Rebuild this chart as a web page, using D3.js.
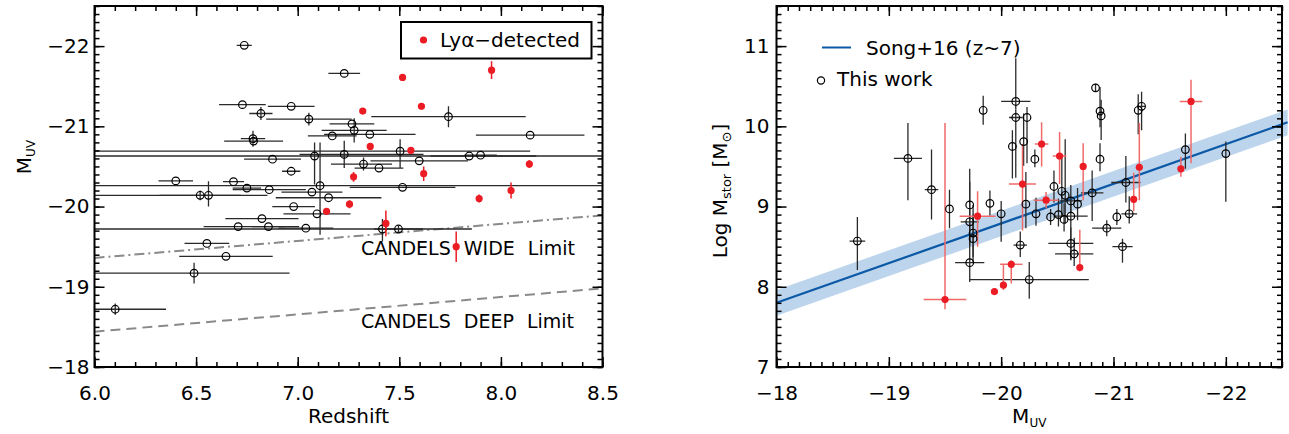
<!DOCTYPE html>
<html><head><meta charset="utf-8">
<script src="https://cdn.jsdelivr.net/npm/d3@7"></script>
<style>
body{margin:0;background:#fff}
text{font-family:"DejaVu Sans",sans-serif;fill:#000}
</style></head>
<body><svg id="c" width="1289" height="434"></svg>
<script>
// ---------------- LEFT PANEL DATA (redshift vs M_UV) ----------------
// black open circles: z, z error (low side, high side), M_UV, M error (bright side, faint side)
const blkZ     = [6.737,7.229,6.728,6.968,6.819,7.055,7.742,7.267,7.278,7.17,7.355,8.144,6.78,6.783,7.083,7.229,7.504,7.844,7.90,6.876,7.598,7.324,7.40,6.968,6.40,6.684,6.75,6.86,7.07,7.11,7.516,6.52,6.561,7.152,6.98,7.095,6.824,6.707,6.856,7.04,7.417,7.496,6.553,6.647,6.49,6.102];
const blkZLo   = [0.037,0.078,0.115,0.115,0.057,0.21,0.38,0.11,0.16,0.12,0.225,0.267,0.06,0.145,1.2,0.22,1.6,0.19,0.08,0.14,0.24,0.16,0.12,0.045,0.085,0.052,0.07,0.18,0.15,1.2,0.26,0.2,0.6,0.26,0.105,0.165,0.18,0.17,0.08,0.135,1.5,0.12,0.11,0.23,0.6,0.2];
const blkZHi   = [0.037,0.078,0.115,0.115,0.057,0.21,0.38,0.11,0.16,0.12,0.225,0.267,0.06,0.145,1.5,0.39,0.64,0.33,0.08,0.14,0.24,0.14,0.12,0.045,0.085,0.052,0.07,0.18,0.15,1.5,0.26,0.2,0.29,0.26,0.105,0.165,0.18,0.30,0.08,0.135,0.44,0.12,0.11,0.23,0.47,0.25];
const blkM     = [-22.01,-21.66,-21.27,-21.25,-21.16,-21.09,-21.12,-21.03,-20.95,-20.88,-20.90,-20.89,-20.846,-20.816,-20.63,-20.65,-20.69,-20.63,-20.64,-20.59,-20.57,-20.53,-20.48,-20.44,-20.32,-20.31,-20.23,-20.21,-20.18,-20.26,-20.24,-20.14,-20.14,-20.11,-20.0,-19.91,-19.85,-19.75,-19.75,-19.73,-19.72,-19.72,-19.54,-19.38,-19.17,-18.72];
const blkMBr   = [0,0,0,0,0.08,0.08,0.13,0,0.15,0,0,0,0.1,0,0.17,0.17,0.15,0,0,0,0,0.08,0,0,0,0,0,0,0,0.54,0,0.06,0.175,0,0,0,0,0,0,0,0.125,0.04,0,0,0.13,0.07];
const blkMFt   = [0,0,0,0,0.08,0.08,0.13,0,0.15,0,0,0,0.1,0,0.355,0.17,0.21,0,0,0,0,0.08,0,0,0,0,0,0,0,0.61,0,0.06,0.14,0,0,0,0,0,0,0,0.155,0.04,0,0,0.13,0.07];
// red (Lya-detected) filled dots
const redZ     = [7.516,7.954,7.32,7.609,7.357,7.557,7.62,8.14,7.275,7.893,8.05,7.255,7.142,7.434,7.78];
const redM     = [-21.61,-21.70,-21.19,-21.25,-20.75,-20.70,-20.41,-20.53,-20.37,-20.10,-20.20,-20.03,-19.94,-19.79,-19.50];
const redMErr  = [0,0.11,0,0,0.04,0.03,0.09,0.05,0.06,0.05,0.1,0.05,0.03,0.16,0.19];
// survey limits
const limZ     = [6.0, 8.5];
const wideM    = [-19.36, -19.89];
const deepM    = [-18.44, -18.98];

// ---------------- RIGHT PANEL DATA (M_UV vs log stellar mass) ----------------
const rbMuv    = [-19.84,-20.13,-20.13,-20.23,-20.84,-20.88,-20.89,-21.22,-21.25,-19.17,-19.38,-19.54,-19.72,-19.72,-19.75,-19.75,-19.72,-19.90,-20.00,-20.17,-20.22,-20.10,-20.20,-20.30,-20.47,-20.54,-20.57,-20.62,-20.68,-20.51,-20.44,-20.56,-20.62,-20.31,-20.62,-20.65,-20.81,-20.88,-20.94,-21.03,-21.08,-21.11,-21.14,-21.64,-22.00,-18.72,-20.25];
const rbMuvErr = [0,0.13,0.06,0,0,0,0,0,0.03,0.125,0.06,0,0,0.08,0,0,0.13,0,0,0.06,0,0,0,0,0,0,0,0.1,0,0,0,0,0.15,0,0.2,0.17,0.1,0,0.13,0,0.09,0.13,0.07,0,0,0.07,0.53];
const rbLogM   = [10.20,10.31,10.11,10.11,10.48,10.19,10.13,10.20,10.25,9.60,9.21,8.97,9.02,8.81,8.67,8.60,8.30,9.04,8.91,8.52,9.03,9.75,9.81,9.59,9.25,9.19,9.14,9.07,9.03,8.90,8.87,8.84,8.88,8.91,8.54,8.41,9.17,9.59,8.73,8.87,8.50,9.30,8.91,9.71,9.66,8.57,8.09];
const rbLo     = [0.18,0.1,0.75,0.57,0.05,0.2,0.3,0.3,0.3,0.52,0.37,0.24,0.47,0.3,0.3,0.3,0.24,0.15,0.35,0.15,0.3,0.4,0.3,0.1,0.2,0.3,0.35,0.15,0.2,0.15,0.1,0.15,0.55,0.15,0.2,0.15,0.35,0.15,0.1,0.1,0.2,0.25,0.12,0.24,0.6,0.36,0.24];
const rbHi     = [0.18,0.54,0.1,0.13,0.05,0.3,0.2,0.2,0.18,0.44,0.5,0.24,0.45,0.5,0.35,0.3,0.35,0.16,0.16,0.17,0.4,0.2,0.35,0.12,0.2,0.45,0.7,0.2,0.2,0.2,0.1,0.2,0.2,0.2,0.2,0.2,0.28,0.2,0.1,0.1,0.1,0.33,0.22,0.2,0.15,0.3,0.22];
const rrMuv    = [-19.50,-19.94,-20.02,-20.09,-20.70,-19.79,-20.19,-20.36,-20.52,-20.73,-20.40,-21.18,-21.23,-21.60,-21.69];
const rrMuvErr = [0.19,0.03,0.03,0.1,0,0.16,0.12,0.06,0.06,0,0.11,0,0,0,0.1];
const rrLogM   = [7.84,7.94,8.02,8.28,8.24,8.88,9.28,9.78,9.63,9.50,9.08,9.09,9.49,9.47,10.31];
const rrLo     = [0.12,0.04,0.06,0.24,0.05,0.38,0.58,0.28,0.35,0.42,0.1,0.15,0.41,0.1,0.77];
const rrHi     = [2.2,0.04,0.25,0.05,0.47,0.31,0.5,0.27,0.3,0.29,0.1,0.33,0.55,0.15,0.27];
// Song+16 (z~7) relation endpoints and 1-sigma band
const songMuv  = [-18.0, -22.55];
const songLogM = [7.80, 10.05];
const songSig  = 0.16;

// tick values
const lxTicks = [6.0,6.5,7.0,7.5,8.0,8.5];
const lyTicks = [-22,-21,-20,-19,-18];
const rxTicks = [-18,-19,-20,-21,-22];
const ryTicks = [7,8,9,10,11];

const RED = "#ec1c24", RED_ERR = "#f06a6a", BLK_ERR = "#2a2a2a";
const svg = d3.select("#c");
const minus = v => (v < 0 ? "\u2212" + Math.abs(v) : String(v));

function range(a, b, s){ const out=[]; const n=Math.round((b-a)/s); for(let i=0;i<=n;i++) out.push(+(a+i*s).toFixed(4)); return out; }

function axes(g, x, y, xMaj, yMaj, xMin, yMin, xFmt, yFmt, pad){
  const [x0,x1] = x.range(), [y0,y1] = y.range();
  const style = sel => { sel.select(".domain").remove(); sel.selectAll("line").attr("stroke","#000").attr("stroke-width",1.5);
    sel.selectAll("text").attr("font-size",20).attr("font-family","DejaVu Sans").attr("fill","#000"); };
  const mk = (ax, tr, vals, size, fmt, padding) => {
    const a = ax.tickValues(vals).tickSize(size).tickPadding(padding||3);
    a.tickFormat(fmt || (()=>""));
    g.append("g").attr("transform",tr).call(a).call(style);
  };
  mk(d3.axisBottom(x), `translate(0,${y0})`, xMaj, -10, xFmt, 19);
  mk(d3.axisBottom(x), `translate(0,${y0})`, xMin, -5);
  mk(d3.axisTop(x), `translate(0,${y1})`, xMaj, -10);
  mk(d3.axisTop(x), `translate(0,${y1})`, xMin, -5);
  mk(d3.axisLeft(y), `translate(${x0},0)`, yMaj, -10, yFmt, pad);
  mk(d3.axisLeft(y), `translate(${x0},0)`, yMin, -5);
  mk(d3.axisRight(y), `translate(${x1},0)`, yMaj, -10);
  mk(d3.axisRight(y), `translate(${x1},0)`, yMin, -5);
  g.append("rect").attr("x",x0).attr("y",y1).attr("width",x1-x0).attr("height",y0-y1)
    .attr("fill","none").attr("stroke","#000").attr("stroke-width",2);
}

// ================= LEFT PANEL =================
const L = {x0:94.5, x1:602.5, y0:367, y1:6};
const xL = d3.scaleLinear().domain([6.0,8.5]).range([L.x0,L.x1]);
const yL = d3.scaleLinear().domain([-18,-22.5]).range([L.y0,L.y1]);
const gL = svg.append("g");
svg.append("clipPath").attr("id","clipL").append("rect").attr("x",L.x0).attr("y",L.y1).attr("width",L.x1-L.x0).attr("height",L.y0-L.y1);
const pL = gL.append("g").attr("clip-path","url(#clipL)");

// limits
const limLine = d3.line().x(d=>xL(d[0])).y(d=>yL(d[1]));
pL.append("path").attr("d",limLine(limZ.map((z,i)=>[z,wideM[i]]))).attr("fill","none").attr("stroke","#8a8a8a").attr("stroke-width",2).attr("stroke-dasharray","10,4,2,4");
pL.append("path").attr("d",limLine(limZ.map((z,i)=>[z,deepM[i]]))).attr("fill","none").attr("stroke","#8a8a8a").attr("stroke-width",2).attr("stroke-dasharray","10,6");
gL.append("text").attr("x",361).attr("y",255).attr("font-size",19).attr("word-spacing",7).text("CANDELS WIDE Limit");
gL.append("text").attr("x",361).attr("y",328).attr("font-size",19).attr("word-spacing",7).text("CANDELS DEEP Limit");

// black points with error bars
blkZ.forEach((z,i)=>{
  if (blkZLo[i]>0 || blkZHi[i]>0)
    pL.append("line").attr("x1",xL(z-blkZLo[i])).attr("x2",xL(z+blkZHi[i])).attr("y1",yL(blkM[i])).attr("y2",yL(blkM[i])).attr("stroke",BLK_ERR).attr("stroke-width",1.3);
  if (blkMBr[i]>0 || blkMFt[i]>0)
    pL.append("line").attr("x1",xL(z)).attr("x2",xL(z)).attr("y1",yL(blkM[i]-blkMBr[i])).attr("y2",yL(blkM[i]+blkMFt[i])).attr("stroke",BLK_ERR).attr("stroke-width",1.3);
});
pL.selectAll("circle.b").data(blkZ).join("circle").attr("class","b")
  .attr("cx",(d)=>xL(d)).attr("cy",(d,i)=>yL(blkM[i])).attr("r",3.8)
  .attr("fill","none").attr("stroke","#000").attr("stroke-width",1.2);
redZ.forEach((z,i)=>{
  if (redMErr[i]>0)
    pL.append("line").attr("x1",xL(z)).attr("x2",xL(z)).attr("y1",yL(redM[i]-redMErr[i])).attr("y2",yL(redM[i]+redMErr[i])).attr("stroke",RED).attr("stroke-width",1.5);
});
pL.selectAll("circle.r").data(redZ).join("circle").attr("class","r")
  .attr("cx",d=>xL(d)).attr("cy",(d,i)=>yL(redM[i])).attr("r",3.6).attr("fill",RED);

axes(gL, xL, yL, lxTicks, lyTicks, range(6.0,8.5,0.1), range(-22.5,-18,0.1), d3.format(".1f"), minus, 5);

// legend
gL.append("rect").attr("x",401).attr("y",22).attr("width",190.5).attr("height",36.5).attr("fill","#fff").attr("stroke","#000").attr("stroke-width",2);
gL.append("circle").attr("cx",423.5).attr("cy",40).attr("r",3.6).attr("fill",RED);
gL.append("text").attr("x",440).attr("y",47).attr("font-size",20).text("Ly\u03b1\u2212detected");

// titles
gL.append("text").attr("x",(L.x0+L.x1)/2).attr("y",423).attr("text-anchor","middle").attr("font-size",20).text("Redshift");
const tl = gL.append("text").attr("transform","translate(31,157) rotate(-90)").attr("text-anchor","middle").attr("font-size",20);
tl.append("tspan").text("M");
tl.append("tspan").attr("font-size",12).attr("dy",4).text("UV");

// ================= RIGHT PANEL =================
const R = {x0:776.5, x1:1282, y0:367, y1:6};
const xR = d3.scaleLinear().domain([-18,-22.5]).range([R.x0,R.x1]);
const yR = d3.scaleLinear().domain([7,11.5]).range([R.y0,R.y1]);
const gR = svg.append("g");
svg.append("clipPath").attr("id","clipR").append("rect").attr("x",R.x0).attr("y",R.y1).attr("width",R.x1-R.x0+8).attr("height",R.y0-R.y1);
const pR = gR.append("g").attr("clip-path","url(#clipR)");

const songPts = songMuv.map((m,i)=>({m, v:songLogM[i]}));
pR.append("path").datum(songPts)
  .attr("d", d3.area().x(d=>xR(d.m)).y0(d=>yR(d.v-songSig)).y1(d=>yR(d.v+songSig)))
  .attr("fill","#bcd4ec");
pR.append("path").datum(songPts)
  .attr("d", d3.line().x(d=>xR(d.m)).y(d=>yR(d.v)))
  .attr("fill","none").attr("stroke","#0b59a6").attr("stroke-width",2.2);

const pR2 = gR.append("g").attr("clip-path","url(#clipR)");
rbMuv.forEach((m,i)=>{
  if (rbMuvErr[i]>0)
    pR2.append("line").attr("x1",xR(m-rbMuvErr[i])).attr("x2",xR(m+rbMuvErr[i])).attr("y1",yR(rbLogM[i])).attr("y2",yR(rbLogM[i])).attr("stroke",BLK_ERR).attr("stroke-width",1.3);
  pR2.append("line").attr("x1",xR(m)).attr("x2",xR(m)).attr("y1",yR(rbLogM[i]-rbLo[i])).attr("y2",yR(rbLogM[i]+rbHi[i])).attr("stroke",BLK_ERR).attr("stroke-width",1.3);
});
rrMuv.forEach((m,i)=>{
  if (rrMuvErr[i]>0)
    pR2.append("line").attr("x1",xR(m-rrMuvErr[i])).attr("x2",xR(m+rrMuvErr[i])).attr("y1",yR(rrLogM[i])).attr("y2",yR(rrLogM[i])).attr("stroke",RED_ERR).attr("stroke-width",1.5);
  pR2.append("line").attr("x1",xR(m)).attr("x2",xR(m)).attr("y1",yR(rrLogM[i]-rrLo[i])).attr("y2",yR(rrLogM[i]+rrHi[i])).attr("stroke",RED_ERR).attr("stroke-width",1.5);
});
pR2.selectAll("circle.b").data(rbMuv).join("circle").attr("class","b")
  .attr("cx",d=>xR(d)).attr("cy",(d,i)=>yR(rbLogM[i])).attr("r",3.8)
  .attr("fill","none").attr("stroke","#000").attr("stroke-width",1.2);
pR2.selectAll("circle.r").data(rrMuv).join("circle").attr("class","r")
  .attr("cx",d=>xR(d)).attr("cy",(d,i)=>yR(rrLogM[i])).attr("r",3.6).attr("fill",RED);

axes(gR, xR, yR, rxTicks, ryTicks, range(-22.5,-18,0.1), range(7,11.5,0.1), minus, d=>String(d), 7);

// legend
gR.append("line").attr("x1",822).attr("x2",851).attr("y1",47.5).attr("y2",47.5).attr("stroke","#0b59a6").attr("stroke-width",2);
gR.append("text").attr("x",866).attr("y",55).attr("font-size",20).text("Song+16 (z~7)");
gR.append("circle").attr("cx",821).attr("cy",80.5).attr("r",3.6).attr("fill","none").attr("stroke","#000").attr("stroke-width",1.2);
gR.append("text").attr("x",837).attr("y",86).attr("font-size",20).text("This work");

// titles
const tx = gR.append("text").attr("x",(R.x0+R.x1)/2).attr("y",423).attr("text-anchor","middle").attr("font-size",20);
tx.append("tspan").text("M");
tx.append("tspan").attr("font-size",12).attr("dy",4).text("UV");
const ty = gR.append("text").attr("transform","translate(727,191) rotate(-90)").attr("text-anchor","middle").attr("font-size",20);
ty.append("tspan").text("Log M");
ty.append("tspan").attr("font-size",13).attr("dy",4).text("stor");
ty.append("tspan").attr("dy",-4).text(" [M");
ty.append("tspan").attr("font-size",13).attr("dy",4).text("\u2299");
ty.append("tspan").attr("dy",-4).text("]");
</script>
</body></html>
